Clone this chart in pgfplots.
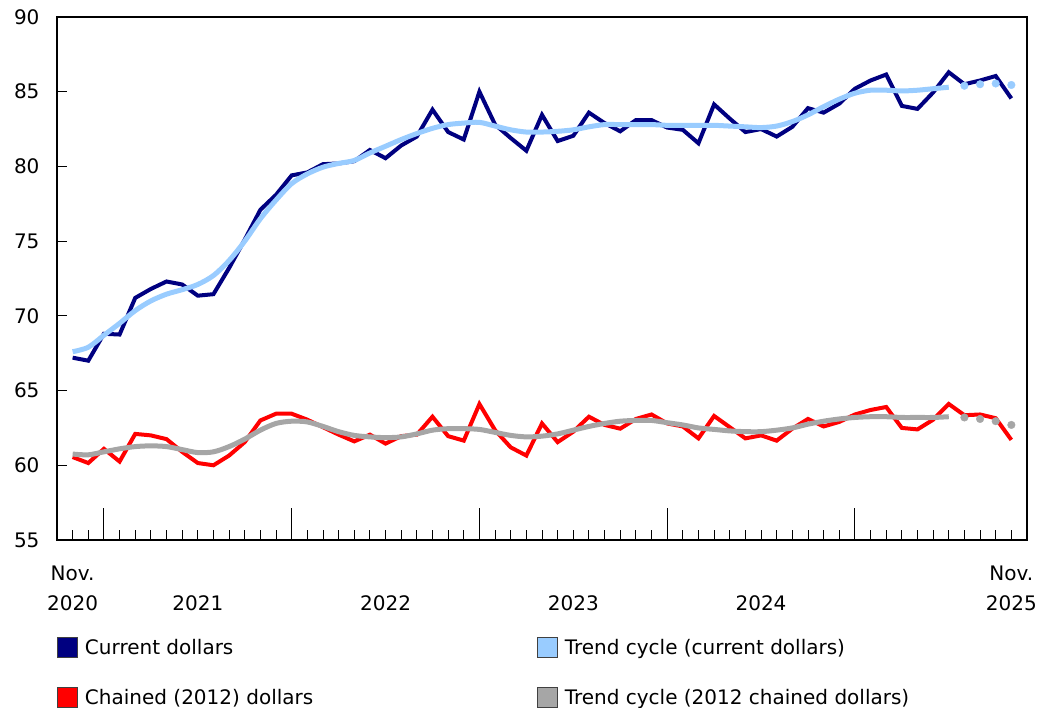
\documentclass[border=0pt]{standalone}
\usepackage{pgfplots}
\pgfplotsset{compat=1.18}
\usepackage{fontspec}
\setmainfont{DejaVu Sans}
\definecolor{cur}{HTML}{000080}
\definecolor{trcur}{HTML}{99CCFF}
\definecolor{chn}{HTML}{FF0000}
\definecolor{trchn}{HTML}{A6A6A6}
\begin{document}
\begin{tikzpicture}
\path[use as bounding box] (-57pt,-168pt) rectangle (980pt,540pt);
\begin{axis}[
 at={(0pt,0pt)}, anchor=south west,
 scale only axis, width=970pt, height=523pt,
 xmin=-1, xmax=61, ymin=55, ymax=90,
 font=\fontsize{20}{30}\selectfont,
 /pgf/number format/assume math mode=true,
 tick align=inside, tick pos=left,
 major tick length=10pt, minor tick length=32pt,
 xtick={0,...,60}, xticklabels={},
 minor xtick={2,14,26,38,50},
 ytick={55,60,...,90},
 extra x ticks={0,8,20,32,44,60},
 extra x tick labels={{Nov.\\2020},{\vphantom{Nov.}\\2021},{\vphantom{Nov.}\\2022},{\vphantom{Nov.}\\2023},{\vphantom{Nov.}\\2024},{Nov.\\2025}},
 x tick label style={align=center, anchor=north, yshift=-22pt, font=\fontsize{20}{30}\selectfont},
 y tick label style={xshift=-14pt},
 axis line style={line width=1.2pt},
 tick style={line width=0.9pt, black},
 legend columns=2, legend cell align=left,
 legend style={at={(0,0)}, anchor=north west, xshift=-3pt, yshift=-95pt, draw=none, fill=none, row sep=29pt, /tikz/every odd column/.append style={column sep=5pt}, font=\fontsize{20}{24}\selectfont},
]
\addplot[cur, line width=4pt, legend image code/.code={\draw[draw=black!75, line width=0.8pt, fill=cur] (0pt,-10pt) rectangle (20pt,10pt);}] table {
x y
0 67.2
1 67.0
2 68.8
3 68.75
4 71.2
5 71.8
6 72.3
7 72.1
8 71.35
9 71.45
10 73.2
11 75.1
12 77.1
13 78.1
14 79.4
15 79.6
16 80.15
17 80.2
18 80.35
19 81.1
20 80.55
21 81.4
22 82.0
23 83.8
24 82.3
25 81.8
26 85.0
27 82.8
28 81.9
29 81.05
30 83.45
31 81.7
32 82.05
33 83.6
34 82.9
35 82.35
36 83.1
37 83.1
38 82.6
39 82.45
40 81.55
41 84.15
42 83.2
43 82.3
44 82.5
45 82.0
46 82.65
47 83.9
48 83.6
49 84.2
50 85.2
51 85.75
52 86.15
53 84.05
54 83.85
55 84.95
56 86.3
57 85.5
58 85.75
59 86.05
60 84.55
};
\addlegendentry{\makebox[450pt][l]{Current dollars}}
\addplot[trcur, line width=5pt, smooth, legend image code/.code={\draw[draw=black!75, line width=0.8pt, fill=trcur] (0pt,-10pt) rectangle (20pt,10pt);}] table {
x y
0 67.6
1 67.9
2 68.7
3 69.5
4 70.35
5 71.0
6 71.45
7 71.75
8 72.1
9 72.7
10 73.7
11 75.0
12 76.5
13 77.75
14 78.85
15 79.5
16 79.95
17 80.2
18 80.4
19 80.9
20 81.35
21 81.8
22 82.2
23 82.55
24 82.8
25 82.9
26 82.95
27 82.7
28 82.45
29 82.3
30 82.3
31 82.35
32 82.45
33 82.65
34 82.8
35 82.8
36 82.8
37 82.8
38 82.75
39 82.75
40 82.75
41 82.75
42 82.7
43 82.65
44 82.6
45 82.7
46 83.0
47 83.45
48 84.0
49 84.5
50 84.9
51 85.1
52 85.1
53 85.05
54 85.1
55 85.2
56 85.3
};
\addlegendentry{Trend cycle (current dollars)}
\addplot[chn, line width=4pt, legend image code/.code={\draw[draw=black!75, line width=0.8pt, fill=chn] (0pt,-10pt) rectangle (20pt,10pt);}] table {
x y
0 60.55
1 60.15
2 61.1
3 60.25
4 62.1
5 62.0
6 61.75
7 60.9
8 60.15
9 60.0
10 60.65
11 61.55
12 63.0
13 63.45
14 63.45
15 63.05
16 62.55
17 62.05
18 61.6
19 62.05
20 61.45
21 61.95
22 62.05
23 63.25
24 61.95
25 61.65
26 64.1
27 62.35
28 61.2
29 60.65
30 62.8
31 61.55
32 62.25
33 63.25
34 62.7
35 62.45
36 63.1
37 63.4
38 62.8
39 62.6
40 61.8
41 63.3
42 62.55
43 61.8
44 62.0
45 61.65
46 62.45
47 63.1
48 62.6
49 62.9
50 63.4
51 63.7
52 63.9
53 62.5
54 62.4
55 63.05
56 64.1
57 63.35
58 63.4
59 63.15
60 61.7
};
\addlegendentry{\makebox[450pt][l]{Chained (2012) dollars}}
\addplot[trchn, line width=5pt, smooth, legend image code/.code={\draw[draw=black!75, line width=0.8pt, fill=trchn] (0pt,-10pt) rectangle (20pt,10pt);}] table {
x y
0 60.75
1 60.7
2 60.9
3 61.1
4 61.25
5 61.3
6 61.25
7 61.05
8 60.85
9 60.9
10 61.25
11 61.75
12 62.35
13 62.8
14 62.95
15 62.9
16 62.6
17 62.25
18 62.0
19 61.9
20 61.85
21 61.9
22 62.1
23 62.35
24 62.45
25 62.45
26 62.4
27 62.2
28 62.0
29 61.9
30 61.95
31 62.1
32 62.35
33 62.6
34 62.8
35 62.95
36 63.0
37 63.0
38 62.85
39 62.7
40 62.5
41 62.4
42 62.3
43 62.25
44 62.25
45 62.35
46 62.5
47 62.75
48 62.95
49 63.1
50 63.2
51 63.25
52 63.25
53 63.2
54 63.2
55 63.2
56 63.25
};
\addlegendentry{Trend cycle (2012 chained dollars)}
\addplot[only marks, mark=*, mark size=3.8pt, color=trcur, forget plot] coordinates {(57,85.4) (58,85.5) (59,85.55) (60,85.45)};
\addplot[only marks, mark=*, mark size=3.8pt, color=trchn, forget plot] coordinates {(57,63.2) (58,63.1) (59,62.95) (60,62.7)};
\end{axis}
\end{tikzpicture}
\end{document}
